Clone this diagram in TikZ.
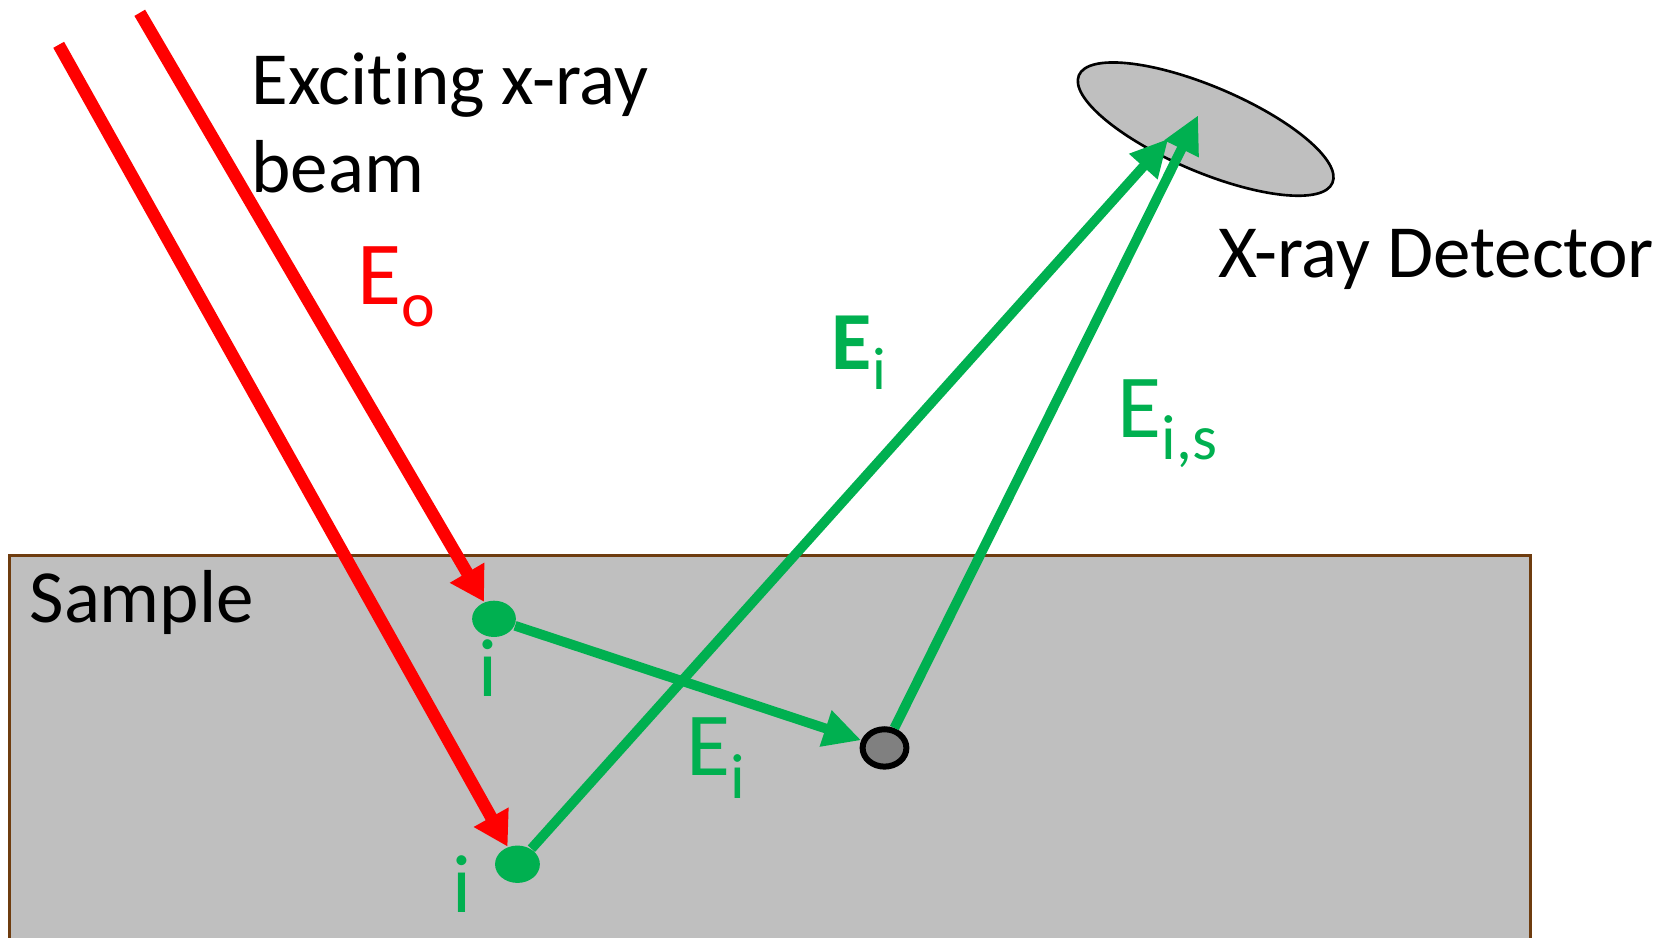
\documentclass[tikz,border=0pt]{standalone}
\usepackage{fontspec}
\setmainfont{Carlito}[Ligatures={NoCommon}]
\usetikzlibrary{shapes.geometric,arrows.meta}
\definecolor{xred}{RGB}{255,0,0}
\definecolor{xgreen}{RGB}{0,176,80}
\definecolor{xgray}{RGB}{191,191,191}
\definecolor{xdark}{RGB}{128,128,128}
\definecolor{xbrown}{RGB}{110,60,15}
\newcommand{\Esub}[1]{E\raisebox{-6pt}{\fontsize{17}{17}\selectfont #1}}
\begin{document}
\begin{tikzpicture}[x=0.01cm,y=-0.01cm,
  beamarrow/.style={draw=xred, line width=3.3pt, -{Triangle[length=9pt,width=10pt]}},
  rayarrow/.style={draw=xgreen, line width=2.6pt, -{Triangle[length=10pt,width=9.5pt]}},
  atom/.style={ellipse, fill=xgreen, minimum width=0.41cm, minimum height=0.34cm, inner sep=0pt},
  txt/.style={inner sep=0pt, anchor=base west, font=\fontsize{20}{24}\selectfont},
  elbl/.style={inner sep=0pt, anchor=base west, text=xgreen, font=\fontsize{24}{28}\selectfont}]
\useasboundingbox (0,0) rectangle (1568,879);
% sample
\begin{scope}
\clip (0,0) rectangle (1568,879);
\draw[xbrown, line width=0.8pt, fill=xgray] (9,521) rectangle (1434,900);
\end{scope}
% detector
\node[ellipse, draw=black, line width=0.7pt, fill=xgray, minimum width=2.58cm, minimum height=0.80cm, inner sep=0pt, rotate=-23] (det) at (1130,121) {};
% atoms
\node[atom] (d1) at (463,580) {};
\node[atom, minimum width=0.42cm, minimum height=0.35cm] (d2) at (485,810) {};
\node[ellipse, fill=xdark, draw=black, line width=1.6pt, minimum width=0.41cm, minimum height=0.35cm, inner sep=0pt] (g) at (829,701) {};
% coordinates
\coordinate (r1) at (55,42);
\coordinate (r2) at (131,12);
\coordinate (tA) at (1095,130);
\coordinate (tB) at (1123,108);
% beams
\draw[beamarrow] (r1) -- (d2);
\draw[beamarrow] (r2) -- (d1);
% rays
\draw[rayarrow] (d1) -- (g);
\draw[rayarrow] (d2) -- (tA);
\draw[rayarrow] (g) -- (tB);
% labels
\node[txt] (l1) at (235,98) {Exciting x-ray};
\node[txt] (l2) at (235,180) {beam};
\node[txt] (l3) at (1141,260) {X-ray Detector};
\node[txt] (l4) at (27,583) {Sample};
\node[elbl, text=xred] (e0) at (334,285) {\Esub{o}};
\node[elbl] (e1) at (779,346) {{\fontsize{22}{26}\selectfont\bfseries E}\raisebox{-5.5pt}{\fontsize{16}{16}\selectfont i}};
\node[elbl] (e2) at (1047,410) {\Esub{i,s}};
\node[elbl] (e3) at (643,727) {\Esub{i}};
\node[elbl, font=\fontsize{22}{26}\selectfont] (i1) at (448,653) {i};
\node[elbl, font=\fontsize{22}{26}\selectfont] (i2) at (423,855) {i};
\end{tikzpicture}
\end{document}
